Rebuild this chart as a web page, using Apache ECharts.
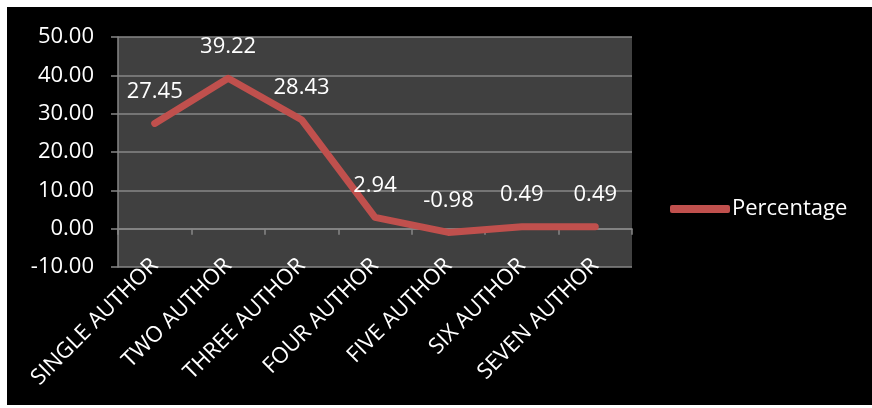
<!DOCTYPE html>
<html>
<head>
<meta charset="utf-8">
<script src="https://cdn.jsdelivr.net/npm/echarts@6/dist/echarts.min.js"></script>
<style>
  html, body { margin: 0; padding: 0; background: #ffffff; }
  #chart { position: absolute; left: 7px; top: 7px; width: 865px; height: 398px; background: #000000; }
</style>
</head>
<body>
<div id="chart"></div>
<script>
// Share of papers by number of authors
const categories = ['SINGLE AUTHOR', 'TWO AUTHOR', 'THREE AUTHOR', 'FOUR AUTHOR', 'FIVE AUTHOR', 'SIX AUTHOR', 'SEVEN AUTHOR'];
const percentage = [27.45, 39.22, 28.43, 2.94, -0.98, 0.49, 0.49];
const seriesName = 'Percentage';
const yMin = -10, yMax = 50, yStep = 10;

const font = '"Open Sans", "Noto Sans", sans-serif';
const gridColor = '#878787';
const lineColor = '#C0504D';
const chart = echarts.init(document.getElementById('chart'));
chart.setOption({
  backgroundColor: '#000000',
  animation: false,
  textStyle: { fontFamily: font },
  grid: {
    left: 111, right: 240, top: 30, bottom: 138,
    show: true, backgroundColor: '#404040', borderWidth: 0
  },
  legend: {
    data: [seriesName],
    left: 658, top: 186,
    icon: 'roundRect',
    itemWidth: 60, itemHeight: 8, itemGap: 0,
    itemStyle: { color: lineColor, opacity: 1 },
    textStyle: { color: '#ffffff', fontSize: 22, fontFamily: font, padding: [0, 0, 0, -3] }
  },
  xAxis: [
    {
      type: 'category', data: categories, boundaryGap: true,
      axisLine: { show: false, onZero: false }, axisTick: { show: false },
      axisLabel: { color: '#ffffff', fontSize: 22, fontFamily: font, rotate: 45, margin: -5, interval: 0 }
    },
    {
      type: 'category', data: categories, boundaryGap: true, position: 'bottom',
      axisLine: { show: true, onZero: true, lineStyle: { color: gridColor, width: 1.5 } },
      axisTick: { show: true, interval: 0, length: 6, inside: false, lineStyle: { color: gridColor, width: 1.5 } },
      axisLabel: { show: false }
    }
  ],
  yAxis: {
    type: 'value', min: yMin, max: yMax, interval: yStep,
    axisLine: { show: true, lineStyle: { color: gridColor, width: 1.5 } },
    axisTick: { show: true, length: 7, lineStyle: { color: gridColor, width: 1.5 } },
    splitLine: { show: true, lineStyle: { color: gridColor, width: 1.5 } },
    axisLabel: {
      color: '#ffffff', fontSize: 22, fontFamily: font, margin: 24,
      formatter: v => v.toFixed(2)
    }
  },
  series: [{
    name: seriesName, type: 'line', data: percentage, xAxisIndex: 0,
    symbol: 'circle', symbolSize: 2, showSymbol: true,
    lineStyle: { color: lineColor, width: 7, cap: 'round', join: 'round' },
    itemStyle: { color: lineColor },
    label: {
      show: true, position: 'top', distance: 20,
      color: '#ffffff', fontSize: 22, fontFamily: font,
      formatter: p => p.value.toFixed(2)
    }
  }]
});
</script>
</body>
</html>
